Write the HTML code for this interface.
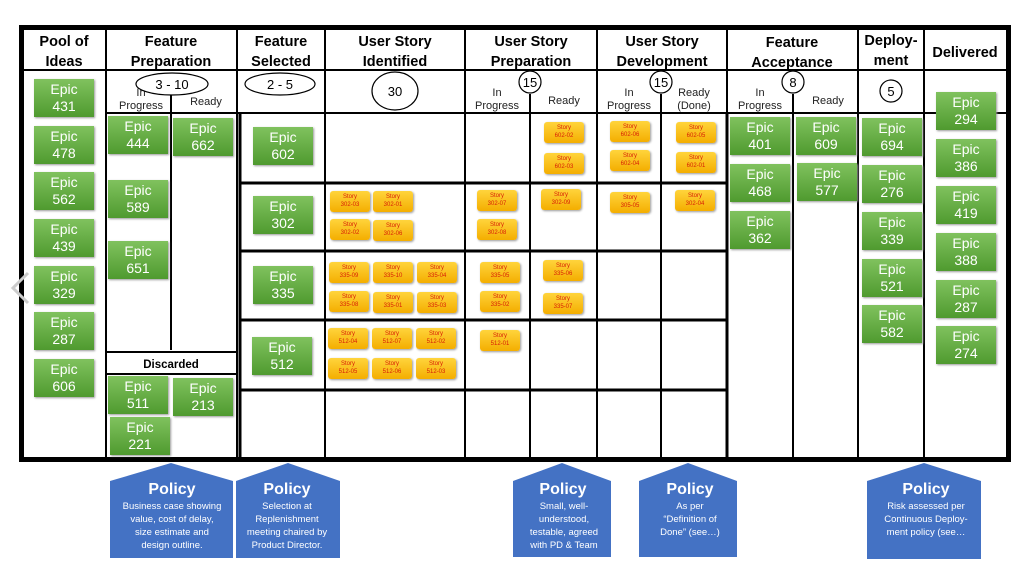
<!DOCTYPE html>
<html><head><meta charset="utf-8"><style>
body{margin:0;width:1024px;height:571px;background:#fff;position:relative;overflow:hidden;font-family:"Liberation Sans",sans-serif}
.e{position:absolute;width:60px;height:38px;background:linear-gradient(#80c25e,#4f9a2f);color:#fff;font:14px/17px "Liberation Sans",sans-serif;text-align:center;box-shadow:1px 1px 2px #999;padding-top:2px;box-sizing:border-box}
.s{position:absolute;width:40px;height:21px;background:linear-gradient(#ffd43c,#f4ae00);color:#d81e06;font:6px/8px "Liberation Sans",sans-serif;text-align:center;border-radius:3px;box-shadow:1px 1px 2px #999;padding-top:2px;box-sizing:border-box}
svg{position:absolute;left:0;top:0}
</style></head><body>
<svg width="1024" height="571" font-family="Liberation Sans, sans-serif">
<!-- outer -->
<rect x="21.5" y="27.5" width="987" height="432" fill="none" stroke="#000" stroke-width="5"/>
<g stroke="#000" stroke-width="2">
<line x1="24" y1="70" x2="1006" y2="70"/>
<line x1="106" y1="113" x2="1006" y2="113"/>
<line x1="106" y1="29" x2="106" y2="458"/>
<line x1="237" y1="29" x2="237" y2="458"/>
<line x1="325" y1="29" x2="325" y2="458"/>
<line x1="465" y1="29" x2="465" y2="458"/>
<line x1="597" y1="29" x2="597" y2="458"/>
<line x1="727" y1="29" x2="727" y2="458"/>
<line x1="858" y1="29" x2="858" y2="458"/>
<line x1="924" y1="29" x2="924" y2="458"/>
<line x1="171" y1="88" x2="171" y2="350"/>
<line x1="530" y1="94" x2="530" y2="458"/>
<line x1="661" y1="94" x2="661" y2="458"/>
<line x1="793" y1="94" x2="793" y2="458"/>
<line x1="106" y1="352" x2="237" y2="352"/>
<line x1="106" y1="374" x2="237" y2="374"/>
</g>
<g stroke="#000" stroke-width="3">
<line x1="240" y1="113" x2="240" y2="458"/>
<line x1="240" y1="183" x2="727" y2="183"/>
<line x1="240" y1="251" x2="727" y2="251"/>
<line x1="240" y1="320" x2="727" y2="320"/>
<line x1="240" y1="390" x2="727" y2="390"/>
<line x1="727" y1="113" x2="727" y2="458"/>
</g>
<g font-size="14.5" font-weight="bold" text-anchor="middle" fill="#000">
<text x="64" y="46">Pool of</text><text x="64" y="66">Ideas</text>
<text x="171" y="46">Feature</text><text x="171" y="66">Preparation</text>
<text x="281" y="46">Feature</text><text x="281" y="66">Selected</text>
<text x="395" y="46">User Story</text><text x="395" y="66">Identified</text>
<text x="531" y="46">User Story</text><text x="531" y="66">Preparation</text>
<text x="662" y="46">User Story</text><text x="662" y="66">Development</text>
<text x="792" y="47">Feature</text><text x="792" y="67">Acceptance</text>
<text x="891" y="45">Deploy-</text><text x="891" y="65">ment</text>
<text x="965" y="57">Delivered</text>
<text x="171" y="368" font-size="11.5">Discarded</text>
</g>
<g font-size="11" text-anchor="middle" fill="#222">
<text x="141" y="96">In</text><text x="141" y="109">Progress</text><text x="206" y="105">Ready</text>
<text x="497" y="96">In</text><text x="497" y="109">Progress</text><text x="564" y="104">Ready</text>
<text x="629" y="96">In</text><text x="629" y="109">Progress</text><text x="694" y="96">Ready</text><text x="694" y="109">(Done)</text>
<text x="760" y="96">In</text><text x="760" y="109">Progress</text><text x="828" y="104">Ready</text>
</g>
<g fill="#fff" stroke="#000" stroke-width="1.2">
<ellipse cx="172" cy="84" rx="36" ry="11"/>
<ellipse cx="280" cy="84" rx="35" ry="11"/>
<ellipse cx="395" cy="91" rx="23" ry="19"/>
<circle cx="530" cy="82" r="11"/>
<circle cx="661" cy="82" r="11"/>
<circle cx="793" cy="82" r="11"/>
<circle cx="891" cy="91" r="11"/>
</g>
<g font-size="13" text-anchor="middle" fill="#000">
<text x="172" y="89">3 - 10</text><text x="280" y="89">2 - 5</text><text x="395" y="96">30</text>
<text x="530" y="87">15</text><text x="661" y="87">15</text><text x="793" y="87">8</text><text x="891" y="96">5</text>
</g>
<polyline points="28,273 13,288 28,303" fill="none" stroke="#ccc" stroke-width="3"/>
<g fill="#4472c4">
<polygon points="110,481 171,463 233,481 233,558 110,558"/>
<polygon points="236,481 288,463 340,481 340,558 236,558"/>
<polygon points="513,481 562,463 611,481 611,557 513,557"/>
<polygon points="639,481 688,463 737,481 737,557 639,557"/>
<polygon points="867,481 924,463 981,481 981,559 867,559"/>
</g>
<g fill="#fff" text-anchor="middle">
<g font-size="16" font-weight="bold">
<text x="172" y="494">Policy</text><text x="287" y="494">Policy</text><text x="563" y="494">Policy</text><text x="690" y="494">Policy</text><text x="926" y="494">Policy</text>
</g>
<g font-size="9.5">
<text x="172" y="509">Business case showing</text><text x="172" y="522">value, cost of delay,</text><text x="172" y="535">size estimate and</text><text x="172" y="548">design outline.</text>
<text x="287" y="509">Selection at</text><text x="287" y="522">Replenishment</text><text x="287" y="535">meeting chaired by</text><text x="287" y="548">Product Director.</text>
<text x="564" y="509">Small, well-</text><text x="564" y="522">understood,</text><text x="564" y="535">testable, agreed</text><text x="564" y="548">with PD &amp; Team</text>
<text x="690" y="509">As per</text><text x="690" y="522">“Definition of</text><text x="690" y="535">Done” (see…)</text>
<text x="926" y="509">Risk assessed per</text><text x="926" y="522">Continuous Deploy-</text><text x="926" y="535">ment policy (see…</text>
</g></g>
</svg>
<div class="e" style="left:34px;top:79px">Epic<br>431</div>
<div class="e" style="left:34px;top:126px">Epic<br>478</div>
<div class="e" style="left:34px;top:172px">Epic<br>562</div>
<div class="e" style="left:34px;top:219px">Epic<br>439</div>
<div class="e" style="left:34px;top:266px">Epic<br>329</div>
<div class="e" style="left:34px;top:312px">Epic<br>287</div>
<div class="e" style="left:34px;top:359px">Epic<br>606</div>
<div class="e" style="left:108px;top:116px">Epic<br>444</div>
<div class="e" style="left:108px;top:180px">Epic<br>589</div>
<div class="e" style="left:108px;top:241px">Epic<br>651</div>
<div class="e" style="left:173px;top:118px">Epic<br>662</div>
<div class="e" style="left:108px;top:376px">Epic<br>511</div>
<div class="e" style="left:173px;top:378px">Epic<br>213</div>
<div class="e" style="left:110px;top:417px">Epic<br>221</div>
<div class="e" style="left:253px;top:127px">Epic<br>602</div>
<div class="e" style="left:253px;top:196px">Epic<br>302</div>
<div class="e" style="left:253px;top:266px">Epic<br>335</div>
<div class="e" style="left:252px;top:337px">Epic<br>512</div>
<div class="e" style="left:730px;top:117px">Epic<br>401</div>
<div class="e" style="left:730px;top:164px">Epic<br>468</div>
<div class="e" style="left:730px;top:211px">Epic<br>362</div>
<div class="e" style="left:796px;top:117px">Epic<br>609</div>
<div class="e" style="left:797px;top:163px">Epic<br>577</div>
<div class="e" style="left:862px;top:118px">Epic<br>694</div>
<div class="e" style="left:862px;top:165px">Epic<br>276</div>
<div class="e" style="left:862px;top:212px">Epic<br>339</div>
<div class="e" style="left:862px;top:259px">Epic<br>521</div>
<div class="e" style="left:862px;top:305px">Epic<br>582</div>
<div class="e" style="left:936px;top:92px">Epic<br>294</div>
<div class="e" style="left:936px;top:139px">Epic<br>386</div>
<div class="e" style="left:936px;top:186px">Epic<br>419</div>
<div class="e" style="left:936px;top:233px">Epic<br>388</div>
<div class="e" style="left:936px;top:280px">Epic<br>287</div>
<div class="e" style="left:936px;top:326px">Epic<br>274</div>

<div class="s" style="left:544px;top:122px">Story<br>602-02</div>
<div class="s" style="left:544px;top:153px">Story<br>602-03</div>
<div class="s" style="left:610px;top:121px">Story<br>602-06</div>
<div class="s" style="left:610px;top:150px">Story<br>602-04</div>
<div class="s" style="left:676px;top:122px">Story<br>602-05</div>
<div class="s" style="left:676px;top:152px">Story<br>602-01</div>
<div class="s" style="left:330px;top:191px">Story<br>302-03</div>
<div class="s" style="left:373px;top:191px">Story<br>302-01</div>
<div class="s" style="left:330px;top:219px">Story<br>302-02</div>
<div class="s" style="left:373px;top:220px">Story<br>302-06</div>
<div class="s" style="left:477px;top:190px">Story<br>302-07</div>
<div class="s" style="left:477px;top:219px">Story<br>302-08</div>
<div class="s" style="left:541px;top:189px">Story<br>302-09</div>
<div class="s" style="left:610px;top:192px">Story<br>305-05</div>
<div class="s" style="left:675px;top:190px">Story<br>302-04</div>
<div class="s" style="left:329px;top:262px">Story<br>335-09</div>
<div class="s" style="left:373px;top:262px">Story<br>335-10</div>
<div class="s" style="left:417px;top:262px">Story<br>335-04</div>
<div class="s" style="left:329px;top:291px">Story<br>335-08</div>
<div class="s" style="left:373px;top:292px">Story<br>335-01</div>
<div class="s" style="left:417px;top:292px">Story<br>335-03</div>
<div class="s" style="left:480px;top:262px">Story<br>335-05</div>
<div class="s" style="left:480px;top:291px">Story<br>335-02</div>
<div class="s" style="left:543px;top:260px">Story<br>335-06</div>
<div class="s" style="left:543px;top:293px">Story<br>335-07</div>
<div class="s" style="left:328px;top:328px">Story<br>512-04</div>
<div class="s" style="left:372px;top:328px">Story<br>512-07</div>
<div class="s" style="left:416px;top:328px">Story<br>512-02</div>
<div class="s" style="left:328px;top:358px">Story<br>512-05</div>
<div class="s" style="left:372px;top:358px">Story<br>512-06</div>
<div class="s" style="left:416px;top:358px">Story<br>512-03</div>
<div class="s" style="left:480px;top:330px">Story<br>512-01</div>
</body></html>
